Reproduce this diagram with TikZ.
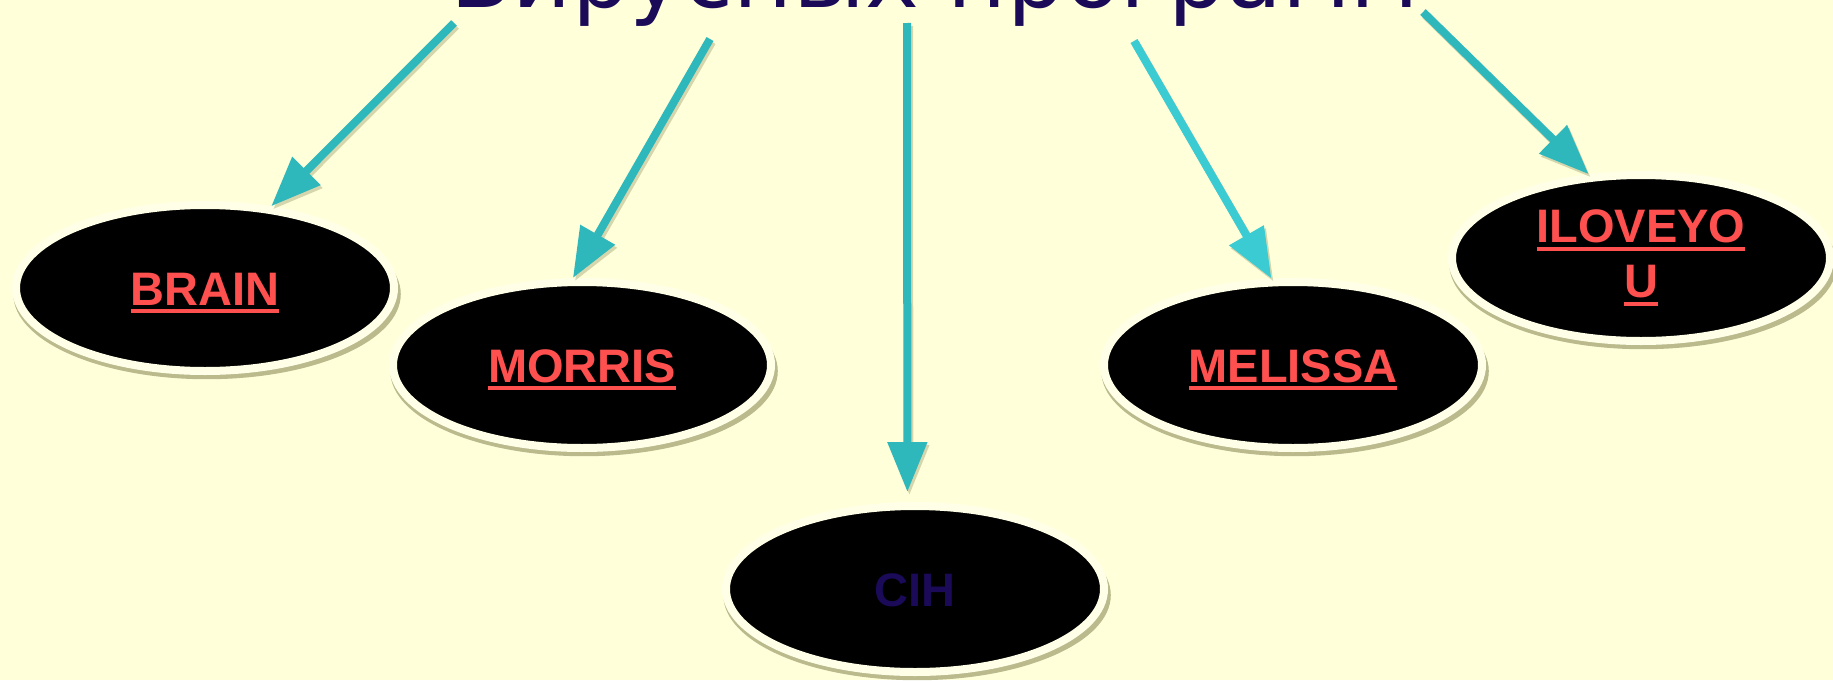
\documentclass[tikz,border=0pt]{standalone}
\usepackage{fontspec}
\setmainfont{Liberation Sans}
\newfontfamily\titlefont{DejaVu Sans}
\usetikzlibrary{arrows.meta,shapes.geometric,shadows}
\definecolor{bg}{RGB}{255,255,218}
\definecolor{ring}{RGB}{255,255,232}
\definecolor{teala}{RGB}{46,184,188}
\definecolor{tealb}{RGB}{58,204,210}
\definecolor{navy}{RGB}{26,10,88}
\definecolor{lred}{RGB}{255,80,80}
\definecolor{shad}{RGB}{140,140,90}
\newcommand\myul[1]{\setbox0\hbox{#1}\makebox[0pt][l]{\rule[-8pt]{\wd0}{4pt}}\box0}
\begin{document}
\begin{tikzpicture}[x=1pt,y=-1pt,
  vir/.style={ellipse, fill=black, draw=ring, line width=8pt,
    minimum width=378pt, minimum height=166pt, inner sep=0pt,
    font=\bfseries\fontsize{47}{55}\selectfont, text=lred,
    drop shadow={shadow xshift=2pt, shadow yshift=-6pt, shadow scale=1.025, fill=shad, opacity=0.6}},
  oneline/.style={text height=34pt, text depth=0pt},
  arr/.style={draw=teala, line width=8pt, -{Triangle[length=50pt,width=38pt]}},
  ashad/.style={arr, draw=shad, opacity=0.35, transform canvas={shift={(2pt,-3pt)}}}]
\useasboundingbox (0,0) rectangle (1833,680);
\clip (0,0) rectangle (1833,680);
\fill[bg] (0,0) rectangle (1833,680);
\node[font=\titlefont\fontsize{91}{100}\selectfont, text=navy, anchor=base, inner sep=0pt] (title) at (935,7) {Вирусных программ};
\coordinate (s1) at (454,23);
\coordinate (s2) at (710,39);
\coordinate (s3) at (907,23);
\coordinate (s4) at (1134,41);
\coordinate (s5) at (1423,12);
\node[vir, oneline] (brain) at (205,288) {\myul{BRAIN}};
\node[vir, oneline] (morris) at (582,365) {\myul{MORRIS}};
\node[vir, oneline, text=navy] (cih) at (915,589) {CIH};
\node[vir, oneline] (melissa) at (1293,365) {\myul{MELISSA}};
\node[vir, align=center] (ilove) at (1641,258) {\myul{ILOVEYO}\\\myul{U}};
\draw[ashad] (s1) -- (brain.51);
\draw[ashad] (s2) -- (morris.96);
\draw[ashad, shorten >=10pt] (s3) -- (cih.95);
\draw[ashad] (s4) -- (melissa.104);
\draw[ashad] (s5) -- (ilove.122);
\draw[arr] (s1) -- (brain.51);
\draw[arr] (s2) -- (morris.96);
\draw[arr, shorten >=10pt] (s3) -- (cih.95);
\draw[arr, draw=tealb] (s4) -- (melissa.104);
\draw[arr] (s5) -- (ilove.122);
\end{tikzpicture}
\end{document}
